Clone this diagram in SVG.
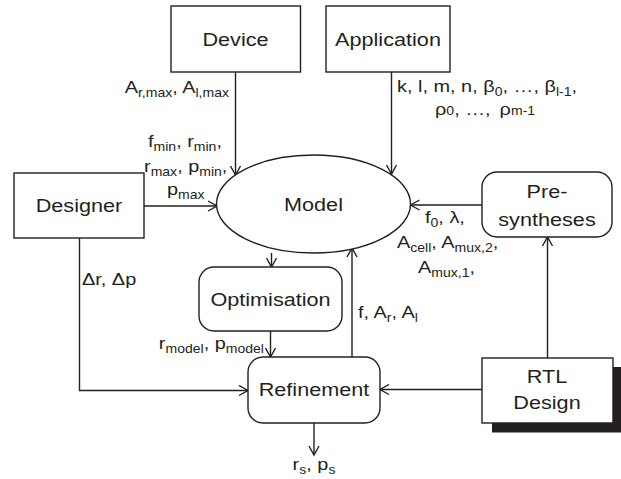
<svg xmlns="http://www.w3.org/2000/svg" width="621" height="479" viewBox="0 0 621 479">
<style>
.box{fill:#fff;stroke:#231f20;stroke-width:1.4}
.ln{fill:none;stroke:#231f20;stroke-width:1.4}
.nt{font-family:"Liberation Sans",Arial,sans-serif;font-size:18.5px;fill:#231f20;text-anchor:middle}
.lb{font-family:"Liberation Sans",Arial,sans-serif;font-size:17px;fill:#231f20}
.s{font-size:12px}
</style>
<defs>
<marker id="ah" markerWidth="12" markerHeight="12" refX="10" refY="6" orient="auto" markerUnits="userSpaceOnUse">
<path d="M1,1 L10,6 L1,11" fill="none" stroke="#231f20" stroke-width="1.4"/>
</marker>
</defs>
<rect width="621" height="479" fill="#fff"/>

<g id="connectors">
<line class="ln" x1="235.5" y1="72" x2="235.5" y2="175" marker-end="url(#ah)"/>
<line class="ln" x1="391.5" y1="72" x2="391.5" y2="174" marker-end="url(#ah)"/>
<line class="ln" x1="144" y1="206" x2="217" y2="206" marker-end="url(#ah)"/>
<line class="ln" x1="482" y1="205" x2="410.5" y2="205" marker-end="url(#ah)"/>
<line class="ln" x1="271.5" y1="253" x2="271.5" y2="267" marker-end="url(#ah)"/>
<line class="ln" x1="270.5" y1="331" x2="270.5" y2="357" marker-end="url(#ah)"/>
<line class="ln" x1="352" y1="357" x2="352" y2="248" marker-end="url(#ah)"/>
<polyline class="ln" points="79.5,238 79.5,390.5 248,390.5" marker-end="url(#ah)"/>
<line class="ln" x1="482" y1="389.5" x2="380" y2="389.5" marker-end="url(#ah)"/>
<line class="ln" x1="547.5" y1="358" x2="547.5" y2="237" marker-end="url(#ah)"/>
<line class="ln" x1="314" y1="423" x2="314" y2="455" marker-end="url(#ah)"/>
</g>

<g id="device">
<rect class="box" x="171" y="6" width="129.5" height="66"/>
<text class="nt" transform="translate(235.5,46) scale(1.17,1)">Device</text>
</g>
<g id="application">
<rect class="box" x="326" y="6" width="124" height="66"/>
<text class="nt" transform="translate(388,46) scale(1.17,1)">Application</text>
</g>
<g id="designer">
<rect class="box" x="14" y="173" width="130" height="65"/>
<text class="nt" transform="translate(79,212) scale(1.17,1)">Designer</text>
</g>
<g id="model">
<ellipse class="box" cx="313.5" cy="204" rx="97" ry="49"/>
<text class="nt" transform="translate(313.5,211) scale(1.17,1)">Model</text>
</g>
<g id="presyntheses">
<rect class="box" x="482" y="172" width="130" height="65" rx="15"/>
<text class="nt" transform="translate(547,198) scale(1.17,1)">Pre-</text>
<text class="nt" transform="translate(547,226) scale(1.17,1)">syntheses</text>
</g>
<g id="optimisation">
<rect class="box" x="199" y="267" width="143" height="64" rx="15"/>
<text class="nt" transform="translate(270.5,306) scale(1.17,1)">Optimisation</text>
</g>
<g id="refinement">
<rect class="box" x="248" y="357" width="132" height="66" rx="15"/>
<text class="nt" transform="translate(314,396) scale(1.17,1)">Refinement</text>
</g>
<g id="rtl">
<rect x="492" y="367" width="130" height="65.5" fill="#231f20"/>
<rect class="box" x="482" y="358" width="131" height="65"/>
<text class="nt" transform="translate(547,383) scale(1.17,1)">RTL</text>
<text class="nt" transform="translate(547,409) scale(1.17,1)">Design</text>
</g>

<g id="labels">
<text class="lb" text-anchor="end" transform="translate(229,92.5) scale(1.17,1)">A<tspan class="s" dy="4">r,max</tspan><tspan dy="-4">, A</tspan><tspan class="s" dy="4">l,max</tspan></text>
<text class="lb" transform="translate(397,92) scale(1.17,1)">k, l, m, n, β<tspan class="s" dy="4">0</tspan><tspan dy="-4">, …, β</tspan><tspan class="s" dy="4">l-1</tspan><tspan dy="-4">,</tspan></text>
<text class="lb" transform="translate(435,115) scale(1.17,1)">ρ<tspan class="s" dy="0">0</tspan>, …, <tspan dx="3">ρ</tspan><tspan class="s" dy="0">m-1</tspan></text>
<text class="lb" transform="translate(148,147) scale(1.17,1)">f<tspan class="s" dy="4">min</tspan><tspan dy="-4">, r</tspan><tspan class="s" dy="4">min</tspan><tspan dy="-4">,</tspan></text>
<text class="lb" transform="translate(144,172) scale(1.17,1)">r<tspan class="s" dy="4">max</tspan><tspan dy="-4">, p</tspan><tspan class="s" dy="4">min</tspan><tspan dy="-4">,</tspan></text>
<text class="lb" transform="translate(167,195) scale(1.17,1)">p<tspan class="s" dy="4">max</tspan></text>
<text class="lb" transform="translate(425,223) scale(1.17,1)">f<tspan class="s" dy="4">0</tspan><tspan dy="-4">, λ,</tspan></text>
<text class="lb" transform="translate(397,248) scale(1.17,1)">A<tspan class="s" dy="4">cell</tspan><tspan dy="-4">, A</tspan><tspan class="s" dy="4">mux,2</tspan><tspan dy="-4">,</tspan></text>
<text class="lb" transform="translate(418,273) scale(1.17,1)">A<tspan class="s" dy="4">mux,1</tspan><tspan dy="-4">,</tspan></text>
<text class="lb" transform="translate(82,285) scale(1.17,1)">Δr, Δp</text>
<text class="lb" text-anchor="end" transform="translate(264,349) scale(1.17,1)">r<tspan class="s" dy="4">model</tspan><tspan dy="-4">, p</tspan><tspan class="s" dy="4">model</tspan></text>
<text class="lb" transform="translate(358,318) scale(1.17,1)">f, A<tspan class="s" dy="4">r</tspan><tspan dy="-4">, A</tspan><tspan class="s" dy="4">l</tspan></text>
<text class="lb" text-anchor="middle" transform="translate(314,470) scale(1.17,1)">r<tspan class="s" dy="4">s</tspan><tspan dy="-4">, p</tspan><tspan class="s" dy="4">s</tspan></text>
</g>
</svg>
